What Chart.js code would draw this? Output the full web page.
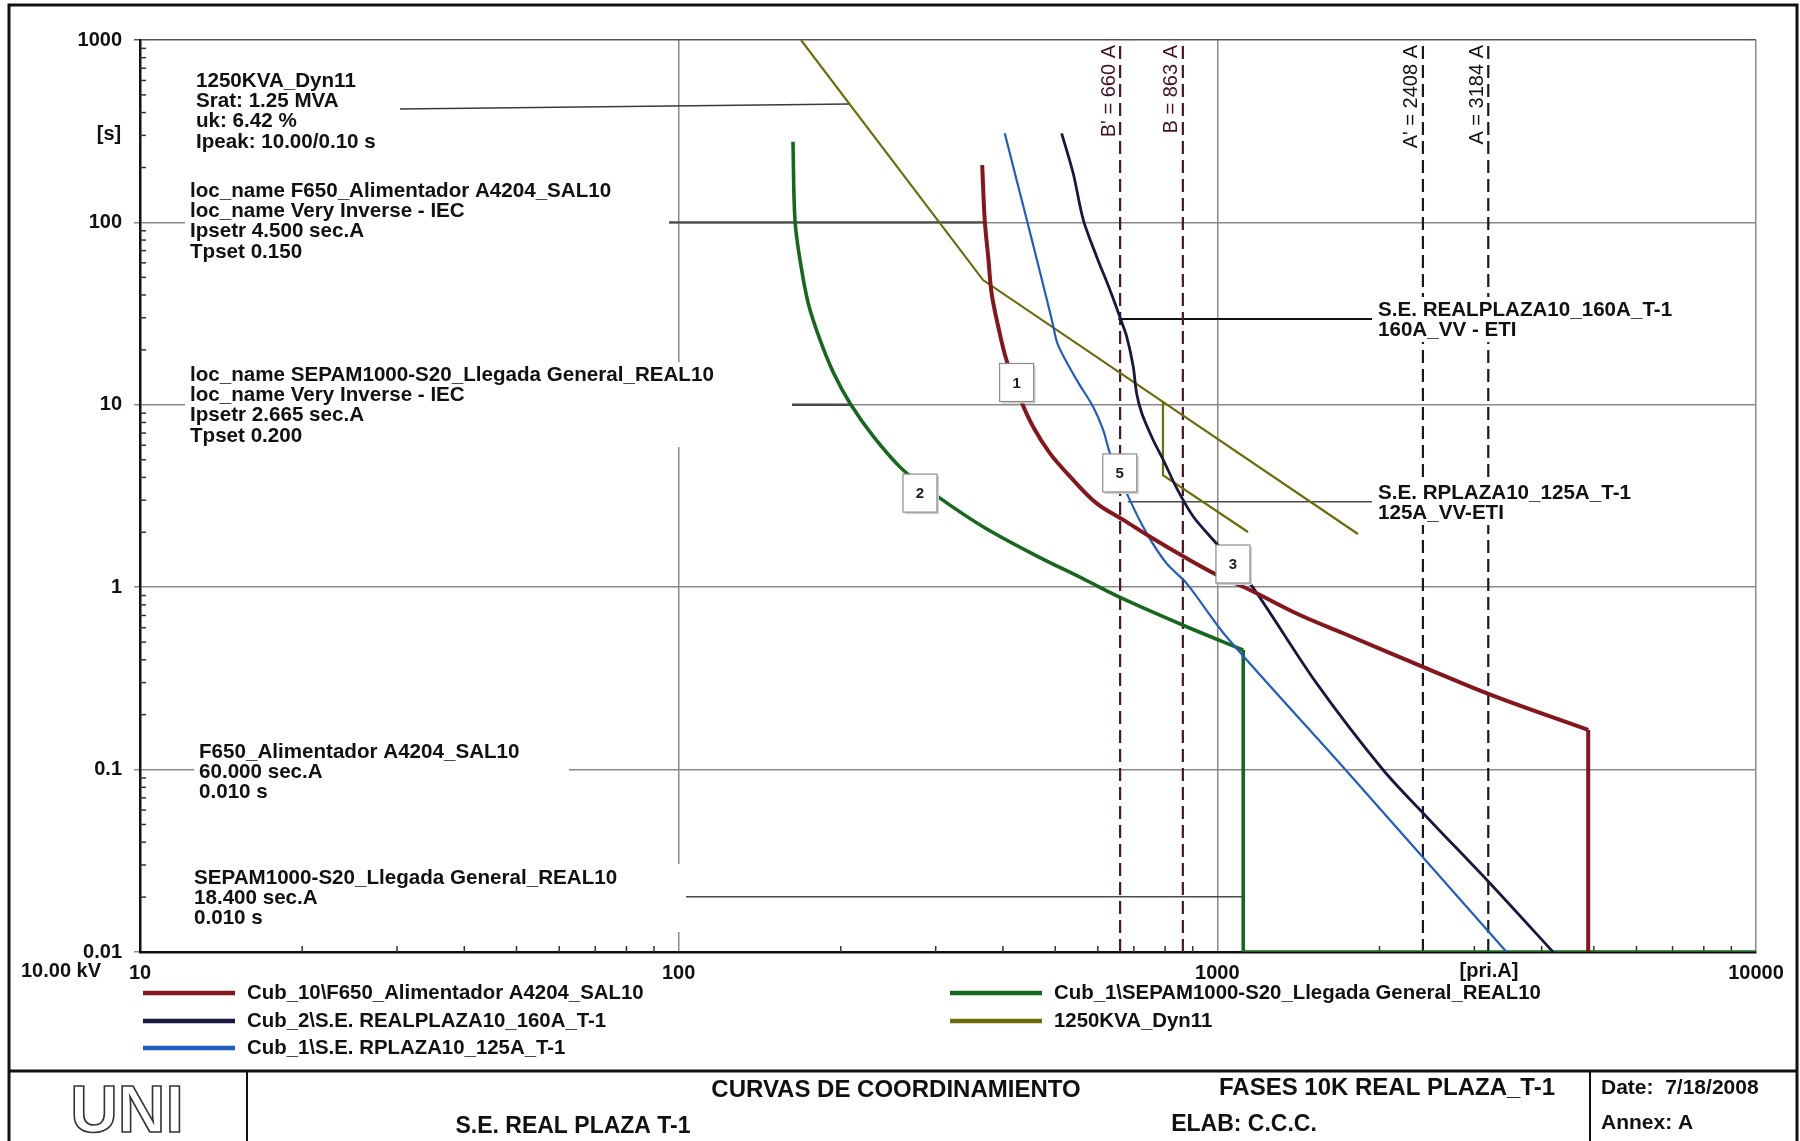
<!DOCTYPE html>
<html>
<head>
<meta charset="utf-8">
<title>Curvas de coordinamiento</title>
<script src="https://cdn.jsdelivr.net/npm/chart.js@4.4.1/dist/chart.umd.min.js"></script>
<style>
  html, body { margin: 0; padding: 0; background: #fff; }
  #wrap { width: 1800px; height: 1141px; }
</style>
</head>
<body>
<div id="wrap"><canvas id="chart1" width="1800" height="1141"></canvas></div>
<script>
// axes: current [pri.A] vs time [s], both logarithmic
const xTicks = [10, 100, 1000, 10000];
const xTickLabels = ['10', '100', '1000', '10000'];
const yTicks = [0.01, 0.1, 1, 10, 100, 1000];
const yTickLabels = ['0.01', '0.1', '1', '10', '100', '1000'];

// Cub_10\F650_Alimentador A4204_SAL10 (curve, then the instantaneous drop)
const f650_I = [366, 370, 376, 381, 392, 406, 433, 455, 489, 533, 597, 669, 750, 877, 997, 1150, 1423, 1713, 2445, 3229, 4881];
const f650_t = [206, 103, 62.2, 40.9, 26.8, 17.6, 10.4, 7.58, 5.42, 4.04, 2.88, 2.34, 1.89, 1.44, 1.17, 0.965, 0.704, 0.559, 0.359, 0.256, 0.165];
const f650Tail_I = [4881, 4881];
const f650Tail_t = [0.165, 0.01];

// Cub_2\S.E. REALPLAZA10_160A_T-1
const se160_I = [514, 540, 564, 597, 632, 659, 679, 698, 708, 724, 760, 794, 840, 902, 997, 1150, 1529, 2032, 2445, 3229, 4200];
const se160_t = [308, 186, 103, 64.9, 42.6, 30.4, 23.6, 16.2, 11.6, 8.98, 6.41, 4.98, 3.5, 2.44, 1.73, 1.05, 0.297, 0.0995, 0.0552, 0.0233, 0.01];

// Cub_1\S.E. RPLAZA10_125A_T-1
const se125_I = [403, 424, 443, 469, 493, 506, 548, 588, 614, 632, 679, 739, 805, 877, 1040, 1689, 3443];
const se125_t = [308, 171, 103, 52.8, 29.2, 21.3, 13.7, 9.76, 7.27, 5.42, 3.27, 1.98, 1.35, 1.05, 0.535, 0.108, 0.01];

// Cub_1\SEPAM1000-S20_Llegada General_REAL10 (curve, then the instantaneous step)
const sepam_I = [163, 164.4, 168, 174, 183, 194, 208, 230, 261, 306, 368, 455, 564, 669, 877, 1117];
const sepam_t = [277, 103, 62.2, 36.0, 22.7, 14.9, 10.2, 6.69, 4.39, 3.07, 2.14, 1.52, 1.11, 0.862, 0.607, 0.4525];
const sepamTail_I = [1117, 1117, 10000];
const sepamTail_t = [0.4525, 0.01, 0.01];

// 1250KVA_Dyn11 damage curve, main part and the lower step
const trafo_I = [168.7, 367.4, 1824];
const trafo_t = [1000, 48.3, 1.957];
const trafoStep_I = [792.6, 792.6, 1140];
const trafoStep_t = [10.36, 4.12, 2.007];

// short-circuit currents (dashed verticals)
const scNames = ["B' = 660 A", "B = 863 A", "A' = 2408 A", "A = 3184 A"];
const scCurrents = [660, 863, 2408, 3184];

// numbered curve tags
const tagNames = ['1', '2', '5', '3'];
const tag_I = [424, 280.5, 659, 1069];
const tag_t = [13.25, 3.28, 4.23, 1.34];

const FONT = "'Liberation Sans', Arial, Helvetica, sans-serif";
Chart.defaults.font.family = FONT;

const pts = (I, t) => I.map((v, i) => ({ x: v, y: t[i] }));

const curveColors = ['#84161c', '#17173f', '#1f5cc4', '#16691c', '#6c6c08'];

const datasets = [
  { label: 'Cub_10\\F650_Alimentador A4204_SAL10', data: pts(f650_I, f650_t), borderColor: curveColors[0], borderWidth: 4, tension: 0.35 },
  { label: 'Cub_2\\S.E. REALPLAZA10_160A_T-1', data: pts(se160_I, se160_t), borderColor: curveColors[1], borderWidth: 2.8, tension: 0.3 },
  { label: 'Cub_1\\S.E. RPLAZA10_125A_T-1', data: pts(se125_I, se125_t), borderColor: curveColors[2], borderWidth: 2.2, tension: 0.3 },
  { label: 'Cub_1\\SEPAM1000-S20_Llegada General_REAL10', data: pts(sepam_I, sepam_t), borderColor: curveColors[3], borderWidth: 3.6, tension: 0.35 },
  { label: '1250KVA_Dyn11', data: pts(trafo_I, trafo_t), borderColor: curveColors[4], borderWidth: 2.2 },
  { label: '1250KVA_Dyn11 step', data: pts(trafoStep_I, trafoStep_t), borderColor: curveColors[4], borderWidth: 2.2 },
  { label: 'F650 inst', data: pts(f650Tail_I, f650Tail_t), borderColor: curveColors[0], borderWidth: 4 },
  { label: 'SEPAM inst', data: pts(sepamTail_I, sepamTail_t), borderColor: curveColors[3], borderWidth: 3.6 },
];
scCurrents.forEach((I, i) => {
  datasets.push({
    label: scNames[i],
    data: [{ x: I, y: 0.01 }, { x: I, y: 1000 }],
    borderColor: i < 2 ? '#4e1626' : '#181824',
    borderWidth: 2.2,
    borderDash: [13, 6],
  });
});
datasets.forEach(d => { d.showLine = true; d.pointRadius = 0; d.fill = false; if (d.tension === undefined) d.tension = 0; });

// legend slots: [dataset index, x, y]
const legendSlots = [[0, 143, 993], [1, 143, 1021], [2, 143, 1048], [3, 950, 993], [4, 950, 1021]];

// text notes, pixel layout
const notes = [
  { lines: ['1250KVA_Dyn11', 'Srat: 1.25 MVA', 'uk: 6.42 %', 'Ipeak: 10.00/0.10 s'], x: 196, y: 81, box: [190, 66, 400, 152] },
  { lines: ['loc_name F650_Alimentador A4204_SAL10', 'loc_name Very Inverse - IEC', 'Ipsetr 4.500 sec.A', 'Tpset 0.150'], x: 190, y: 191, box: [185, 178, 669, 262] },
  { lines: ['loc_name SEPAM1000-S20_Llegada General_REAL10', 'loc_name Very Inverse - IEC', 'Ipsetr 2.665 sec.A', 'Tpset 0.200'], x: 190, y: 375, box: [185, 362, 792, 447] },
  { lines: ['F650_Alimentador A4204_SAL10', '60.000 sec.A', '0.010 s'], x: 199, y: 752, box: [194, 738, 569, 805] },
  { lines: ['SEPAM1000-S20_Llegada General_REAL10', '18.400 sec.A', '0.010 s'], x: 194, y: 878, box: [188, 864, 686, 932] },
];
const rightNotes = [
  { lines: ['S.E. REALPLAZA10_160A_T-1', '160A_VV - ETI'], x: 1378, y: 310, box: [1372, 297, 1690, 342] },
  { lines: ['S.E. RPLAZA10_125A_T-1', '125A_VV-ETI'], x: 1378, y: 493, box: [1372, 480, 1645, 525] },
];

function seg(ctx, x1, y1, x2, y2) {
  ctx.beginPath(); ctx.moveTo(x1, y1); ctx.lineTo(x2, y2); ctx.stroke();
}

function drawNote(ctx, n) {
  ctx.fillStyle = '#fff';
  ctx.fillRect(n.box[0], n.box[1], n.box[2] - n.box[0], n.box[3] - n.box[1]);
  ctx.fillStyle = '#111';
  ctx.font = 'bold 20.6px ' + FONT;
  ctx.textAlign = 'left';
  ctx.textBaseline = 'middle';
  n.lines.forEach((s, i) => ctx.fillText(s, n.x, n.y + i * 20.3));
}

const decor = {
  id: 'decor',
  beforeDatasetsDraw(chart) {
    const { ctx, chartArea: a, scales: { x, y } } = chart;
    ctx.save();
    // minor ticks pointing into the plot
    ctx.strokeStyle = '#333';
    ctx.lineWidth = 1.5;
    for (let e = 1; e < 4; e++) {
      for (let d = 2; d < 10; d++) {
        const px = x.getPixelForValue(d * Math.pow(10, e));
        seg(ctx, px, a.bottom, px, a.bottom - 6);
      }
    }
    for (let e = -2; e < 3; e++) {
      for (let d = 2; d < 10; d++) {
        const py = y.getPixelForValue(d * Math.pow(10, e));
        seg(ctx, a.left, py, a.left + 6, py);
      }
    }
    // leader lines
    ctx.strokeStyle = '#3a3a3a';
    ctx.lineWidth = 1.6;
    seg(ctx, 400, 109, x.getPixelForValue(208), y.getPixelForValue(446));
    ctx.strokeStyle = '#4a4a4a';
    ctx.lineWidth = 2.4;
    seg(ctx, 669, y.getPixelForValue(100), x.getPixelForValue(370), y.getPixelForValue(100));
    seg(ctx, 792, y.getPixelForValue(10), x.getPixelForValue(208), y.getPixelForValue(10));
    ctx.lineWidth = 1.6;
    seg(ctx, 686, y.getPixelForValue(0.0201), x.getPixelForValue(1117), y.getPixelForValue(0.0201));
    seg(ctx, x.getPixelForValue(682), y.getPixelForValue(2.94), 1372, y.getPixelForValue(2.94));
    ctx.strokeStyle = '#111';
    ctx.lineWidth = 2;
    seg(ctx, x.getPixelForValue(655), y.getPixelForValue(29.5), 1372, y.getPixelForValue(29.5));
    notes.forEach(n => drawNote(ctx, n));
    ctx.restore();
  },
  afterDatasetsDraw(chart) {
    const { ctx, scales: { x, y } } = chart;
    ctx.save();
    rightNotes.forEach(n => drawNote(ctx, n));
    // vertical labels of the short-circuit currents
    ctx.font = '20px ' + FONT;
    ctx.textAlign = 'right';
    ctx.textBaseline = 'middle';
    scCurrents.forEach((I, i) => {
      const px = x.getPixelForValue(I);
      ctx.save();
      ctx.translate(px - 11, 45);
      ctx.rotate(-Math.PI / 2);
      ctx.fillStyle = i < 2 ? '#441222' : '#111';
      ctx.fillText(scNames[i], 0, 0);
      ctx.restore();
    });
    // numbered tags
    tagNames.forEach((s, i) => {
      const cx = x.getPixelForValue(tag_I[i]);
      const cy = y.getPixelForValue(tag_t[i]);
      ctx.fillStyle = '#d0d0d0';
      ctx.fillRect(cx - 15, cy - 17, 34, 38);
      ctx.fillStyle = '#fff';
      ctx.fillRect(cx - 17, cy - 19, 34, 38);
      ctx.strokeStyle = '#8c8c8c';
      ctx.lineWidth = 1.2;
      ctx.strokeRect(cx - 17, cy - 19, 34, 38);
      ctx.fillStyle = '#222';
      ctx.font = 'bold 15px ' + FONT;
      ctx.textAlign = 'center';
      ctx.textBaseline = 'middle';
      ctx.fillText(s, cx, cy + 1);
    });
    ctx.restore();
  },
  afterDraw(chart) {
    const { ctx } = chart;
    const ds = chart.data.datasets;
    ctx.save();
    ctx.fillStyle = '#111';
    ctx.font = 'bold 20px ' + FONT;
    ctx.textBaseline = 'middle';
    ctx.textAlign = 'center';
    ctx.fillText('[s]', 109, 134);
    ctx.fillText('10.00 kV', 61, 971);
    ctx.fillText('[pri.A]', 1489, 971);
    // legend
    ctx.textAlign = 'left';
    ctx.font = 'bold 20.4px ' + FONT;
    legendSlots.forEach(([k, lx, ly]) => {
      ctx.strokeStyle = ds[k].borderColor;
      ctx.lineWidth = 4.5;
      seg(ctx, lx, ly, lx + 92, ly);
      ctx.fillText(ds[k].label, lx + 104, ly);
    });
    // outer frame and title block
    ctx.strokeStyle = '#111';
    ctx.lineWidth = 3;
    ctx.strokeRect(9, 5, 1788, 1140);
    seg(ctx, 9, 1071, 1797, 1071);
    ctx.lineWidth = 2;
    seg(ctx, 247, 1071, 247, 1141);
    seg(ctx, 1590, 1071, 1590, 1141);
    ctx.font = 'bold 66px ' + FONT;
    ctx.textAlign = 'center';
    ctx.textBaseline = 'alphabetic';
    ctx.strokeStyle = '#333';
    ctx.lineWidth = 1.6;
    ctx.strokeText('UNI', 127, 1132);
    ctx.fillStyle = '#111';
    ctx.textBaseline = 'middle';
    ctx.font = 'bold 24px ' + FONT;
    ctx.fillText('CURVAS DE COORDINAMIENTO', 896, 1090);
    ctx.fillText('FASES 10K REAL PLAZA_T-1', 1387, 1088);
    ctx.font = 'bold 23px ' + FONT;
    ctx.fillText('S.E. REAL PLAZA T-1', 573, 1127);
    ctx.fillText('ELAB: C.C.C.', 1244, 1125);
    ctx.textAlign = 'left';
    ctx.font = 'bold 21px ' + FONT;
    ctx.fillText('Date:  7/18/2008', 1601, 1088);
    ctx.fillText('Annex: A', 1601, 1123);
    ctx.restore();
  }
};

const ctx1 = document.getElementById('chart1').getContext('2d');
const my_chart = new Chart(ctx1, {
  type: 'scatter',
  data: { datasets: datasets },
  options: {
    responsive: false,
    animation: false,
    layout: { padding: { top: 40, right: 44, left: 0, bottom: 0 } },
    plugins: { legend: { display: false }, tooltip: { enabled: false } },
    scales: {
      x: {
        type: 'logarithmic',
        min: 10,
        max: 10000,
        afterBuildTicks: s => { s.ticks = xTicks.map(v => ({ value: v })); },
        afterFit: s => { s.height = 189; },
        ticks: {
          callback: (v, i) => xTickLabels[i],
          color: '#111',
          font: { size: 20, weight: 'bold' },
          padding: 9,
          maxRotation: 0,
          autoSkip: false,
        },
        grid: { color: '#8a8a8a', lineWidth: 1.5, drawTicks: false },
        border: { color: '#111', width: 2.5 },
      },
      y: {
        type: 'logarithmic',
        min: 0.01,
        max: 1000,
        afterBuildTicks: s => { s.ticks = yTicks.map(v => ({ value: v })); },
        afterFit: s => { s.width = 140; },
        ticks: {
          callback: (v, i) => yTickLabels[i],
          color: '#111',
          font: { size: 20, weight: 'bold' },
          padding: 12,
          autoSkip: false,
        },
        grid: {
          color: c => (c.tick && c.tick.value === 1000 ? '#5d4e6e' : '#8a8a8a'),
          lineWidth: 1.5,
          tickLength: 6,
        },
        border: { color: '#111', width: 2.5 },
      },
    },
  },
  plugins: [decor],
});
</script>
</body>
</html>
